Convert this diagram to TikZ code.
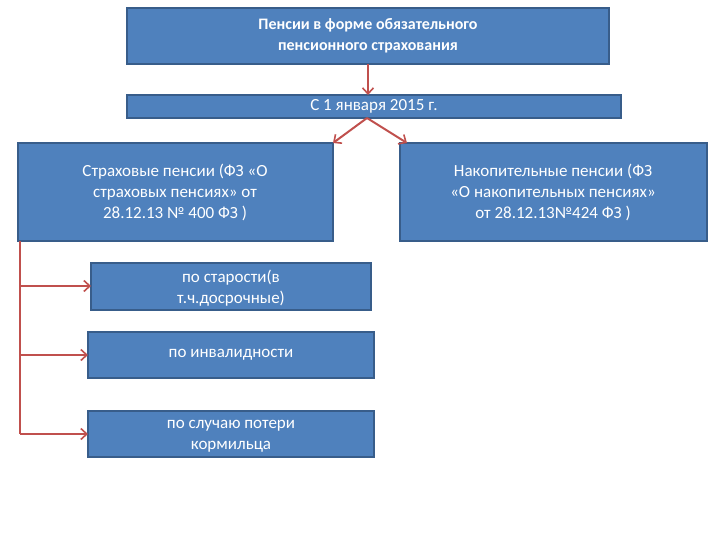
\documentclass[tikz,border=0pt]{standalone}
\usepackage{fontspec}
\setmainfont{Carlito}
\usetikzlibrary{arrows.meta}
\definecolor{bfill}{HTML}{4F81BD}
\definecolor{bdraw}{HTML}{385D8A}
\definecolor{arr}{HTML}{C0504D}
\begin{document}
\begin{tikzpicture}[x=1pt,y=-1pt,
  box/.style={fill=bfill,draw=bdraw,line width=1.2pt},
  txt/.style={text=white,align=center,font=\fontsize{17}{21}\selectfont,inner sep=0},
  con/.style={draw=arr,line width=2pt},
  arrw/.style={con,-{Straight Barb[length=6pt,width=11pt,line width=1.6pt]}}]
\useasboundingbox (0,0) rectangle (720,540);
\path[box] (127,8) rectangle (609,64); \node[txt,font=\bfseries\fontsize{16}{21}\selectfont] (t) at (368,36) {Пенсии в форме обязательного\\пенсионного страхования};
\coordinate (tb) at (368,64);
\path[box] (127,95) rectangle (621,118); \node[txt] (bar) at (374,106) {С 1 января 2015 г.};
\coordinate (bt) at (368,95); \coordinate (bb) at (367,118);
\path[box] (18,143) rectangle (333,241); \node[txt] (l) at (175,192) {Страховые пенсии (ФЗ «О\\страховых пенсиях» от\\28.12.13 № 400 ФЗ )};
\coordinate (lt) at (333,143); \coordinate (lb) at (20,241);
\path[box] (400,143) rectangle (707,241); \node[txt] (r) at (553,192) {Накопительные пенсии (ФЗ\\«О накопительных пенсиях»\\от 28.12.13№424 ФЗ )};
\coordinate (rt) at (407,143);
\path[box] (91,263) rectangle (371,310); \node[txt] (s1) at (231,288) {по старости(в\\т.ч.досрочные)};
\path[box] (88,332) rectangle (374,378); \node[txt] (s2) at (231,355) {по инвалидности};
\path[box] (88,411) rectangle (374,457); \node[txt] (s3) at (231,436) {по случаю потери\\кормильца};
\coordinate (a1) at (91,286); \coordinate (a2) at (88,355); \coordinate (a3) at (88,434);
\draw[arrw] (tb) -- (bt);
\draw[arrw] (bb) -- (lt);
\draw[arrw] (bb) -- (rt);
\draw[con] (lb) -- (20,434);
\draw[arrw] (20,286) -- (a1);
\draw[arrw] (20,355) -- (a2);
\draw[arrw] (20,434) -- (a3);
\end{tikzpicture}
\end{document}
